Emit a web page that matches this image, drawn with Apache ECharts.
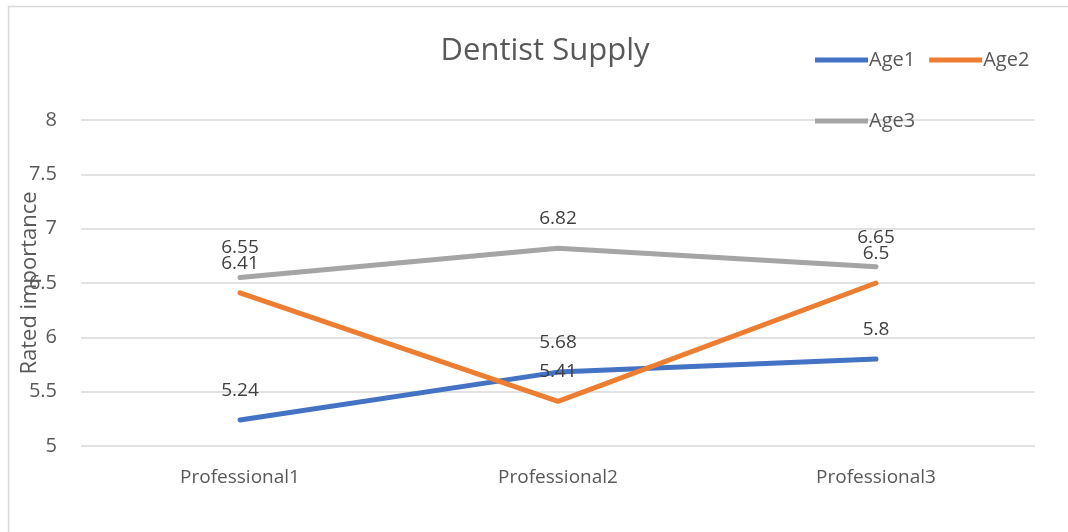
<!DOCTYPE html>
<html>
<head>
<meta charset="utf-8">
<script src="https://cdn.jsdelivr.net/npm/echarts@6/dist/echarts.min.js"></script>
<style>
html,body{margin:0;padding:0;background:#fff;}
#chart{width:1068px;height:532px;}
</style>
</head>
<body>
<div id="chart"></div>
<script>
const categories = ['Professional1', 'Professional2', 'Professional3'];
const age1 = [5.24, 5.68, 5.8];
const age2 = [6.41, 5.41, 6.5];
const age3 = [6.55, 6.82, 6.65];
const seriesNames = ['Age1', 'Age2', 'Age3'];
const colors = ['#4472C4', '#ED7D31', '#A5A5A5'];

const font = '"Open Sans", "Noto Sans", sans-serif';
const chart = echarts.init(document.getElementById('chart'));

function mk(name, data, color) {
  return {
    name: name, type: 'line', data: data,
    symbol: 'circle', symbolSize: 0, showSymbol: true,
    lineStyle: { width: 5, color: color, cap: 'round' },
    itemStyle: { color: color },
    label: { show: true, position: 'top', distance: 20, fontSize: 19, color: '#404040', fontFamily: font },
    z: 3
  };
}

chart.setOption({
  animation: false,
  textStyle: { fontFamily: font },
  graphic: [{
    type: 'rect', shape: { x: 8.5, y: 6.5, width: 1100, height: 600 },
    style: { fill: 'none', stroke: '#d9d9d9', lineWidth: 1.5 }, z: -1
  }],
  title: {
    text: 'Dentist Supply', left: 540, top: 31, textAlign: 'center',
    textStyle: { fontSize: 31, fontWeight: 'normal', color: '#595959', fontFamily: font }
  },
  legend: [{
    data: ['Age1', 'Age2'], left: 810, top: 45,
    icon: 'rect', itemWidth: 53, itemHeight: 5, itemGap: 14,
    textStyle: { fontSize: 20, color: '#595959', padding: [0, 0, 0, -4] }
  }, {
    data: ['Age3'], left: 810, top: 106,
    icon: 'rect', itemWidth: 53, itemHeight: 5,
    textStyle: { fontSize: 20, color: '#595959', padding: [0, 0, 0, -4] }
  }],
  grid: { left: 81, right: 33, top: 120, bottom: 86, outerBoundsMode: 'none' },
  xAxis: {
    type: 'category', data: categories, boundaryGap: true,
    axisLine: { show: false }, axisTick: { show: false },
    axisLabel: { fontSize: 19, color: '#595959', margin: 22 }
  },
  yAxis: {
    type: 'value', min: 5, max: 8, interval: 0.5,
    name: 'Rated importance', nameLocation: 'middle', nameGap: 40, nameMoveOverlap: false,
    nameTextStyle: { fontSize: 22, color: '#595959' },
    axisLine: { show: false }, axisTick: { show: false },
    axisLabel: { fontSize: 20, color: '#595959', margin: 24 },
    splitLine: { lineStyle: { color: '#d9d9d9', width: 1.5 } }
  },
  series: [mk(seriesNames[0], age1, colors[0]), mk(seriesNames[1], age2, colors[1]), mk(seriesNames[2], age3, colors[2])]
});
</script>
</body>
</html>
